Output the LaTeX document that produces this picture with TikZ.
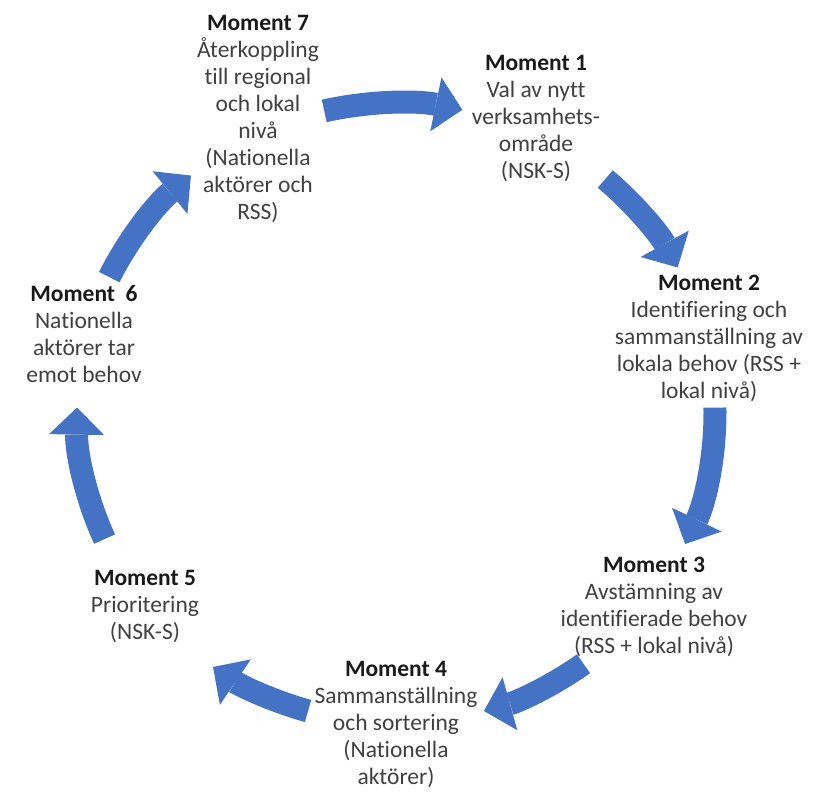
\documentclass[tikz,border=0pt]{standalone}
\usepackage{fontspec}
\setmainfont{Carlito}[Ligatures=NoCommon]
\usetikzlibrary{arrows.meta}
\definecolor{cycleblue}{HTML}{4472C4}

\begin{document}
\begin{tikzpicture}[x=1pt,y=-1pt,
  every node/.style={align=center,anchor=north,inner sep=0pt,text=black!75,font=\fontsize{23.5}{27}\selectfont},
  cyclearrow/.style={draw=cycleblue,line width=23pt,-{Triangle[length=27pt,width=55pt,line width=0pt]}}]
  \useasboundingbox (0,0) rectangle (817,793);
  \coordinate (c) at (396,413);
  % the seven moments
  \path (536,55) node (m1) {\textbf{\color{black!90}Moment 1}\\Val av nytt\\verksamhets-\\område\\(NSK-S)}
  (709,275) node (m2) {\textbf{\color{black!90}Moment 2}\\Identifiering och\\sammanställning av\\lokala behov (RSS +\\lokal nivå)}
  (654,557) node (m3) {\textbf{\color{black!90}Moment 3}\\Avstämning av\\identifierade behov\\(RSS + lokal nivå)}
  (396,661) node (m4) {\textbf{\color{black!90}Moment 4}\\Sammanställning\\och sortering\\(Nationella\\aktörer)}
  (145,570) node (m5) {\textbf{\color{black!90}Moment 5}\\Prioritering\\(NSK-S)}
  (84,285) node (m6) {\textbf{\color{black!90}Moment\ \ 6}\\Nationella\\aktörer tar\\emot behov}
  (258,15) node (m7) {\textbf{\color{black!90}Moment 7}\\Återkoppling\\till regional\\och lokal\\nivå\\(Nationella\\aktörer och\\RSS)};
  % curved block arrows round the cycle
  \foreach \s/\e in {-103/-78,-49/-28,-1/25,54/74,106/125,156/181,206/230}
    \draw[cyclearrow] ([shift={(\s:319 and 310)}]c)
      arc[start angle=\s, end angle=\e, x radius=319, y radius=310];
\end{tikzpicture}
\end{document}
